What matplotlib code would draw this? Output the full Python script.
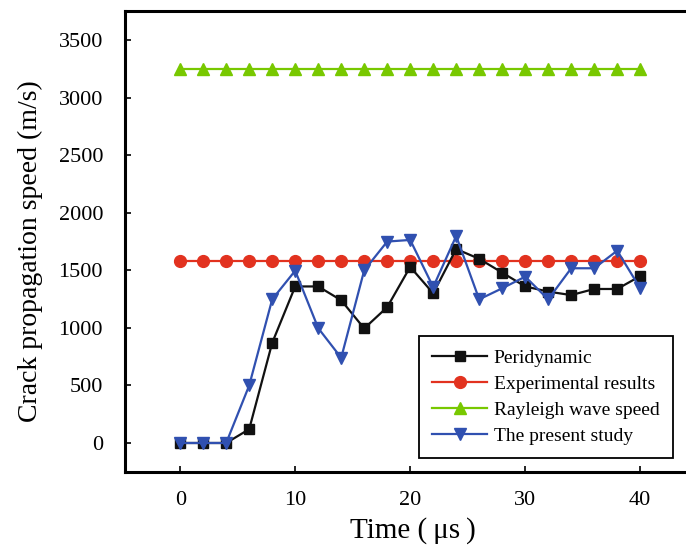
import matplotlib.pyplot as plt

plt.rcParams['font.family'] = ['Liberation Serif', 'DejaVu Serif']

# Czas (us) i prędkości propagacji pęknięcia (m/s)
czas = [0, 2, 4, 6, 8, 10, 12, 14, 16, 18, 20, 22, 24, 26, 28, 30, 32, 34, 36, 38, 40]
peridynamic = [0, 0, 0, 120, 870, 1360, 1360, 1240, 995, 1180, 1530, 1300, 1685, 1600,
               1480, 1360, 1315, 1285, 1338, 1338, 1450]
eksperyment = [1580] * len(czas)
rayleigh = [3250] * len(czas)
obecne = [0, 0, 0, 500, 1248, 1497, 998, 740, 1500, 1750, 1764, 1355, 1798, 1248,
          1344, 1445, 1248, 1518, 1518, 1671, 1344]

fig = plt.figure(figsize=(6.86, 5.49), dpi=100)
ax = fig.add_axes([125 / 686, 77 / 549, 575 / 686, 461 / 549])

ax.plot(czas, peridynamic, color='#111111', lw=1.6, marker='s', ms=7.5, label='Peridynamic', zorder=4)
ax.plot(czas, eksperyment, color='#e2321f', lw=1.6, marker='o', ms=8.5, label='Experimental results', zorder=3)
ax.plot(czas, rayleigh, color='#78c800', lw=1.6, marker='^', ms=9, label='Rayleigh wave speed', zorder=3)
ax.plot(czas, obecne, color='#3050b0', lw=1.6, marker='v', ms=9, label='The present study', zorder=5)

ax.set_xlim(-4.8, 45.2)
ax.set_ylim(-252, 3753)
ax.set_xticks([0, 10, 20, 30, 40])
ax.set_yticks(range(0, 3501, 500))

for s in ax.spines.values():
    s.set_linewidth(2.2)
ax.tick_params(direction='in', length=4, width=1.2, labelsize=16)
ax.tick_params(axis='x', pad=14)
ax.tick_params(axis='y', pad=15.8)

ax.set_xlabel('Time (\u2009μs\u2009)', fontsize=21)
ax.set_ylabel('Crack propagation speed (m/s)', fontsize=20)
ax.xaxis.set_label_coords(0.5, -0.098)
ax.yaxis.set_label_coords(-0.143, 0.48)

leg = ax.legend(loc='lower right', bbox_to_anchor=(0.953, 0.03), borderaxespad=0,
                fontsize=14, fancybox=False, framealpha=1, edgecolor='black',
                handlelength=2.8, handletextpad=0.35, labelspacing=0.42, borderpad=0.7)
leg.get_frame().set_linewidth(1.3)

fig.savefig('out.png', dpi=100)
